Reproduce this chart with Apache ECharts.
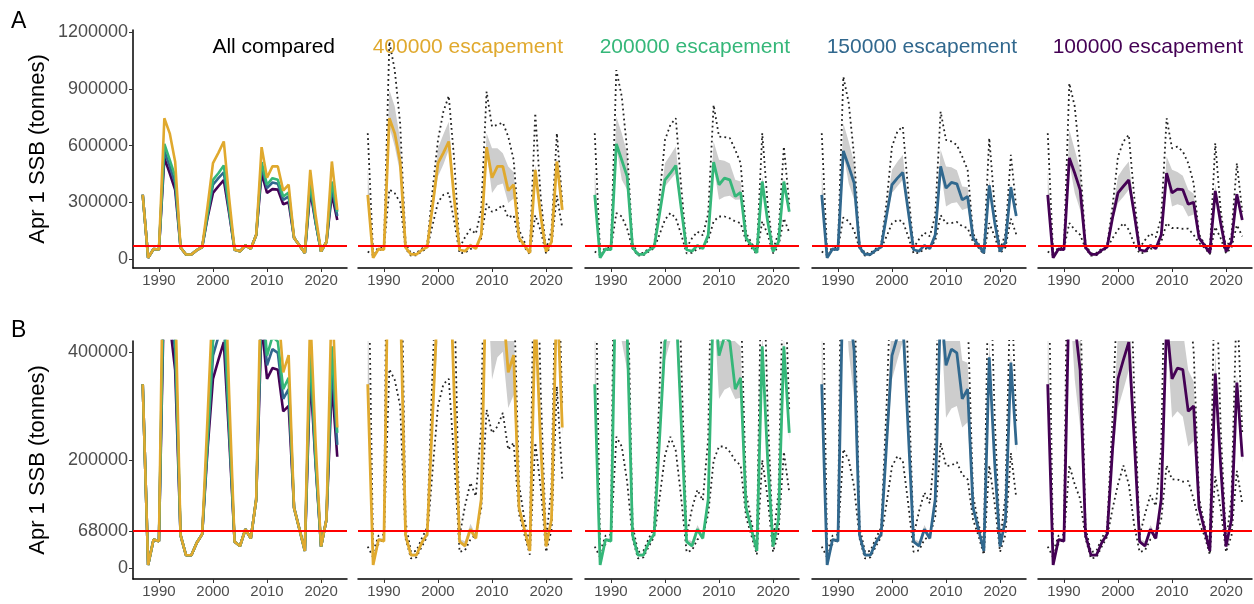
<!DOCTYPE html>
<html>
<head>
<meta charset="utf-8">
<script src="https://cdn.jsdelivr.net/npm/echarts@6/dist/echarts.min.js"></script>
<style>
  html, body { margin: 0; padding: 0; background: #fff; }
  #chart { width: 1254px; height: 604px; }
</style>
</head>
<body>
<div id="chart"></div>
<script>
// years of the run
const years = [1987,1988,1989,1990,1991,1992,1993,1994,1995,1996,1997,1998,1999,2000,2001,2002,2003,2004,2005,2006,2007,2008,2009,2010,2011,2012,2013,2014,2015,2016,2017,2018,2019,2020,2021,2022,2023];
const threshold = 68000;
const xTicks = [1990, 2000, 2010, 2020];
const yTicksA = [0, 300000, 600000, 900000, 1200000];
const yTicksB = [0, 68000, 200000, 400000];

// 400000 escapement
const esc400 = [340000,6000,53000,50000,745000,665000,515000,61000,24000,24000,47000,63000,280000,507000,562000,622000,320000,49000,41000,72000,55000,127000,592000,430000,490000,490000,362000,394000,112000,72000,32000,472000,230000,40000,90000,516000,260000];
const esc400Lo = [330000,6000,50000,48000,700000,595000,455000,58000,22000,22000,45000,60000,260000,437000,500000,578000,290000,46000,38000,66000,52000,120000,560000,349000,390000,400000,296000,320000,105000,68000,30000,440000,215000,37000,86000,495000,245000];
const esc400Hi = [480000,12000,56000,55000,895000,807000,630000,66000,27000,27000,50000,66000,310000,586000,660000,727000,360000,54000,50000,82000,62000,140000,666000,586000,586000,560000,489000,460000,120000,78000,36000,500000,245000,44000,96000,540000,275000];
const esc400DotHi = [666000,30000,60000,62000,1150000,1000000,719000,86000,30000,32000,55000,75000,366000,630000,780000,863000,525000,60000,115000,158000,133000,260000,886000,701000,710000,722000,648000,525000,155000,90000,45000,772000,331000,50000,150000,666000,300000];
const esc400DotLo = [40000,20000,45000,55000,368000,348000,300000,55000,18000,20000,40000,58000,180000,300000,340000,350000,200000,30000,33000,53000,62000,110000,293000,250000,262000,287000,219000,232000,100000,62000,25000,232000,150000,30000,70000,336000,165000];

// 200000 escapement
const esc200 = [340000,6000,53000,50000,609000,524000,437000,61000,24000,24000,47000,63000,240000,419000,454000,495000,270000,49000,41000,72000,55000,127000,513000,393000,428000,419000,331000,352000,112000,72000,32000,410000,200000,40000,90000,410000,250000];
const esc200Lo = [330000,6000,50000,48000,595000,419000,366000,58000,22000,22000,45000,60000,220000,384000,420000,454000,250000,46000,38000,66000,52000,120000,490000,313000,330000,335000,313000,315000,105000,68000,30000,380000,190000,37000,86000,390000,235000];
const esc200Hi = [470000,12000,56000,55000,754000,666000,560000,66000,27000,27000,50000,66000,280000,507000,550000,595000,300000,54000,50000,80000,62000,138000,622000,525000,520000,505000,419000,410000,120000,78000,36000,440000,215000,44000,96000,430000,265000];
const esc200DotHi = [666000,30000,60000,62000,1000000,860000,578000,80000,30000,32000,55000,75000,330000,630000,710000,745000,384000,60000,110000,145000,125000,240000,815000,648000,645000,640000,578000,507000,140000,85000,42000,666000,290000,48000,140000,595000,290000];
const esc200DotLo = [40000,20000,45000,55000,243000,225000,160000,55000,18000,20000,40000,58000,130000,208000,243000,217000,130000,30000,33000,53000,60000,100000,199000,225000,225000,215000,199000,190000,95000,60000,25000,200000,130000,30000,65000,215000,140000];

// 150000 escapement
const esc150 = [340000,6000,53000,50000,572000,490000,402000,61000,24000,24000,47000,63000,230000,393000,428000,458000,255000,49000,41000,72000,55000,127000,490000,375000,405000,398000,313000,331000,112000,72000,32000,390000,195000,40000,90000,380000,228000];
const esc150Lo = [330000,6000,50000,48000,560000,400000,313000,58000,22000,22000,45000,60000,210000,349000,385000,419000,235000,46000,38000,66000,52000,120000,472000,278000,295000,300000,260000,270000,105000,68000,30000,360000,180000,37000,86000,355000,215000];
const esc150Hi = [470000,12000,56000,55000,719000,620000,507000,66000,27000,27000,50000,66000,265000,472000,515000,551000,285000,54000,50000,80000,62000,136000,578000,490000,485000,470000,384000,380000,120000,78000,36000,420000,210000,44000,96000,400000,245000];
const esc150DotHi = [666000,30000,60000,62000,965000,825000,542000,78000,30000,32000,55000,75000,300000,595000,675000,701000,360000,60000,105000,140000,120000,230000,780000,630000,622000,604000,542000,472000,135000,82000,42000,640000,280000,48000,135000,551000,270000];
const esc150DotLo = [40000,20000,45000,55000,220000,200000,150000,55000,18000,20000,40000,58000,120000,188000,207000,199000,120000,30000,33000,53000,60000,95000,232000,189000,190000,196000,173000,164000,90000,60000,25000,190000,120000,30000,62000,213000,130000];

// 100000 escapement
const esc100 = [340000,6000,53000,50000,535000,454000,366000,61000,24000,24000,47000,63000,220000,350000,385000,418000,240000,49000,41000,72000,55000,127000,454000,350000,370000,367000,290000,300000,112000,72000,32000,360000,190000,40000,90000,343000,206000];
const esc100Lo = [330000,6000,50000,48000,507000,349000,260000,58000,22000,22000,45000,60000,200000,296000,330000,366000,220000,46000,38000,66000,52000,120000,437000,278000,290000,280000,225000,235000,105000,68000,30000,340000,175000,37000,86000,320000,195000];
const esc100Hi = [470000,12000,56000,55000,683000,578000,472000,66000,27000,27000,50000,66000,250000,437000,480000,516000,270000,54000,50000,80000,62000,134000,542000,472000,460000,440000,366000,345000,120000,78000,36000,400000,205000,44000,96000,360000,225000];
const esc100DotHi = [666000,30000,60000,62000,930000,807000,507000,75000,30000,32000,55000,75000,280000,542000,622000,657000,331000,60000,100000,135000,115000,220000,745000,586000,595000,569000,507000,402000,130000,80000,42000,613000,260000,48000,130000,507000,250000];
const esc100DotLo = [40000,20000,45000,55000,190000,155000,128000,55000,18000,20000,40000,58000,110000,155000,190000,155000,80000,30000,33000,53000,60000,90000,190000,164000,164000,160000,161000,128000,85000,60000,25000,170000,110000,30000,60000,180000,120000];

const scenarios = [
  {name: '400000 escapement', color: '#E0A92E', main: esc400, lo: esc400Lo, hi: esc400Hi, dotLo: esc400DotLo, dotHi: esc400DotHi},
  {name: '200000 escapement', color: '#35B779', main: esc200, lo: esc200Lo, hi: esc200Hi, dotLo: esc200DotLo, dotHi: esc200DotHi},
  {name: '150000 escapement', color: '#31688E', main: esc150, lo: esc150Lo, hi: esc150Hi, dotLo: esc150DotLo, dotHi: esc150DotHi},
  {name: '100000 escapement', color: '#440154', main: esc100, lo: esc100Lo, hi: esc100Hi, dotLo: esc100DotLo, dotHi: esc100DotHi}
];

const FONT = 'Liberation Sans, Arial, sans-serif';
const lefts = [133, 358, 585, 812, 1038];
const tops = [30, 341];
const PW = 214, PH = 238;
const yRange = [[-47600, 1212000], [-20000, 420000]];

const pairs = (arr) => years.map((y, i) => [y, arr[i]]);
const plain = (v) => String(v);

// gray band: one polygon through the lower and upper bounds
const ribbon = (s) => (params, api) => {
  if (params.dataIndex !== 0) return null;
  const top = years.map((y, i) => api.coord([y, s.hi[i]]));
  const bot = years.map((y, i) => api.coord([y, s.lo[i]])).reverse();
  const cs = params.coordSys;
  return {
    type: 'polygon',
    shape: {points: top.concat(bot)},
    style: {fill: '#CDCDCD'},
    clipPath: {type: 'rect', shape: {x: cs.x, y: cs.y, width: cs.width, height: cs.height}}
  };
};

// red reference line across the whole panel
const hline = (params, api) => {
  const cs = params.coordSys;
  const y = Math.round(api.coord([api.value(0), api.value(1)])[1]);
  return {
    type: 'rect',
    shape: {x: cs.x, y: y - 1, width: cs.width, height: 2},
    style: {fill: '#FF0000'}
  };
};

const grids = [], xAxes = [], yAxes = [], series = [], titles = [];

for (let r = 0; r < 2; r++) {
  for (let c = 0; c < 5; c++) {
    const gi = r * 5 + c;
    grids.push({left: lefts[c], top: tops[r], width: PW, height: PH});
    xAxes.push({
      gridIndex: gi, type: 'value', min: 1985.2, max: 2024.8,
      axisLine: {show: true, onZero: false, lineStyle: {color: '#000', width: 1.5}},
      axisTick: {show: true, length: 4, customValues: xTicks, lineStyle: {color: '#333'}},
      axisLabel: {customValues: xTicks, formatter: plain, color: '#4D4D4D', fontSize: 15, margin: 5, fontFamily: FONT},
      splitLine: {show: false}
    });
    const yt = r === 0 ? yTicksA : yTicksB;
    yAxes.push({
      gridIndex: gi, type: 'value', min: yRange[r][0], max: yRange[r][1],
      show: c === 0,
      name: 'Apr 1 SSB (tonnes)', nameLocation: 'middle', nameRotate: 90, nameGap: 84,
      nameTextStyle: {fontSize: 22, color: '#000', fontFamily: FONT},
      axisLine: {show: true, onZero: false, lineStyle: {color: '#000', width: 1.5}},
      axisTick: {show: true, length: 4, customValues: yt, lineStyle: {color: '#333'}},
      axisLabel: {customValues: yt, formatter: plain, color: '#4D4D4D', fontSize: 18, margin: 5, fontFamily: FONT},
      splitLine: {show: false}
    });

    if (c === 0) {
      // all compared: draw 100000 first, 400000 last on top
      scenarios.slice().reverse().forEach((s) => {
        series.push({
          type: 'line', xAxisIndex: gi, yAxisIndex: gi, data: pairs(s.main),
          showSymbol: false, lineStyle: {color: s.color, width: 2.6}, z: 3
        });
      });
    } else {
      const s = scenarios[c - 1];
      series.push({
        type: 'custom', xAxisIndex: gi, yAxisIndex: gi, silent: true,
        data: years.map((y, i) => [y, s.lo[i], s.hi[i]]),
        renderItem: ribbon(s), z: 1
      });
      [s.dotHi, s.dotLo].forEach(d => {
        series.push({
          type: 'line', xAxisIndex: gi, yAxisIndex: gi, data: pairs(d),
          showSymbol: false, lineStyle: {color: '#222', width: 1.8, type: [1.8, 3.2]}, z: 2
        });
      });
      series.push({
        type: 'line', xAxisIndex: gi, yAxisIndex: gi, data: pairs(s.main),
        showSymbol: false, lineStyle: {color: s.color, width: 2.8}, z: 3
      });
    }
    series.push({
      type: 'custom', xAxisIndex: gi, yAxisIndex: gi, silent: true,
      data: [[years[0], threshold]], renderItem: hline, z: 10, zlevel: 1
    });
  }
}

const titleColors = ['#000'].concat(scenarios.map(s => s.color));
const titleTexts = ['All compared'].concat(scenarios.map(s => s.name));
const titleInset = [12, 9, 9, 9, 9];
for (let c = 0; c < 5; c++) {
  titles.push({
    text: titleTexts[c], right: 1254 - (lefts[c] + PW - titleInset[c]), top: 37, padding: 0,
    textStyle: {fontSize: 21, fontWeight: 'normal', color: titleColors[c], fontFamily: FONT}
  });
}
titles.push({text: 'A', left: 11, top: 10, padding: 0, textStyle: {fontSize: 23, fontWeight: 'normal', color: '#000', fontFamily: FONT}});
titles.push({text: 'B', left: 11, top: 319, padding: 0, textStyle: {fontSize: 23, fontWeight: 'normal', color: '#000', fontFamily: FONT}});

const myChart = echarts.init(document.getElementById('chart'));
myChart.setOption({
  animation: false,
  backgroundColor: '#fff',
  title: titles,
  grid: grids,
  xAxis: xAxes,
  yAxis: yAxes,
  series: series
});
</script>
</body>
</html>
